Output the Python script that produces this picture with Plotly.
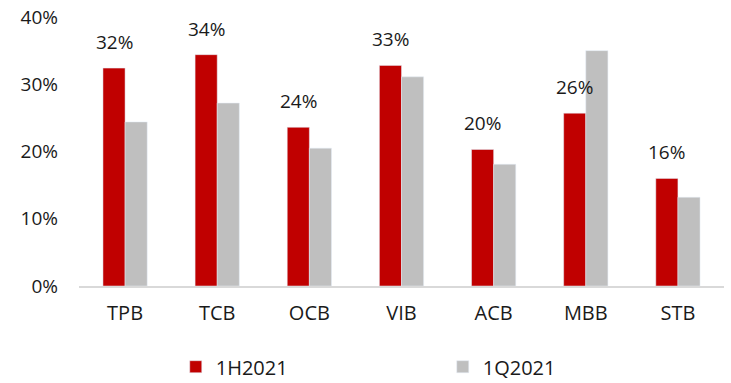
import plotly.graph_objects as go

categories = ["TPB", "TCB", "OCB", "VIB", "ACB", "MBB", "STB"]
h1_2021 = [32.4, 34.4, 23.6, 32.8, 20.3, 25.7, 16.0]
q1_2021 = [24.4, 27.2, 20.5, 31.1, 18.1, 35.0, 13.2]
label_texts = ["32%", "34%", "24%", "33%", "20%", "26%", "16%"]
y_ticks = [0, 10, 20, 30, 40]
y_tick_labels = ["0%", "10%", "20%", "30%", "40%"]

FONT = "Open Sans"
RED = "#C00000"
GRAY = "#BFBFBF"
FS = 19

fig = go.Figure()
fig.add_trace(go.Bar(x=categories, y=h1_2021, name="1H2021", marker_color=RED))
fig.add_trace(go.Bar(x=categories, y=q1_2021, name="1Q2021", marker_color=GRAY))

for c, v, t in zip(categories, h1_2021, label_texts):
    fig.add_annotation(x=c, y=v, text=t, showarrow=False, xshift=-11,
                       yanchor="bottom", yshift=11,
                       font=dict(family=FONT, size=FS, color="#1a1a1a"))

fig.update_layout(
    width=731, height=383,
    margin=dict(l=79, r=7, t=17, b=97, autoexpand=False),
    paper_bgcolor="white", plot_bgcolor="white",
    barmode="group", bargap=0.52, bargroupgap=0,
    font=dict(family=FONT, size=FS, color="#1a1a1a"),
    showlegend=True,
    legend=dict(orientation="h", x=0.15, xanchor="left", y=-0.30, yanchor="middle",
                entrywidth=222, font=dict(family=FONT, size=20, color="#1a1a1a")),
    xaxis=dict(showline=True, linecolor="#D9D9D9", linewidth=2, ticks="",
               ticklabelstandoff=8, showgrid=False,
               tickfont=dict(family=FONT, size=20, color="#1a1a1a")),
    yaxis=dict(range=[0, 40], tickvals=y_ticks, ticktext=y_tick_labels, showgrid=False,
               zeroline=False, showline=False, ticks="", ticklabelstandoff=20),
)

fig.write_html("out.html")
